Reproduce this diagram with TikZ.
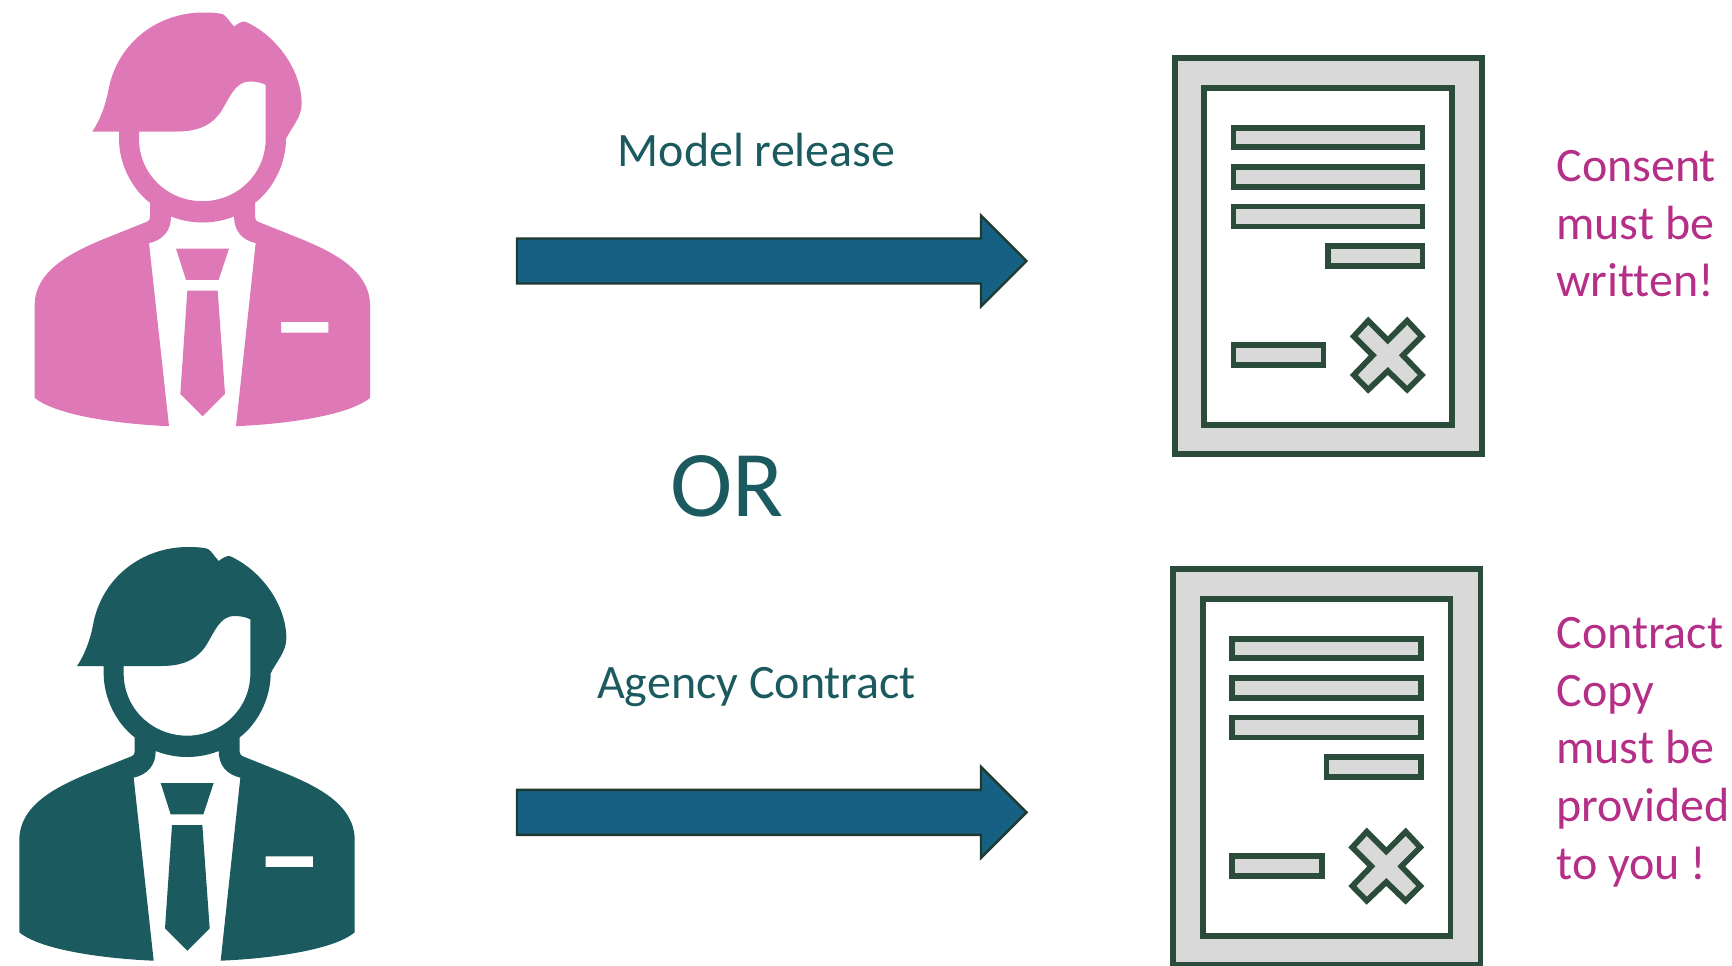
\documentclass[tikz,border=0pt]{standalone}
\usepackage{fontspec}
\setmainfont{Carlito}[Ligatures=NoCommon]
\usetikzlibrary{calc}
\definecolor{pinkfig}{HTML}{DE78B7}
\definecolor{tealfig}{HTML}{1B5A5E}
\definecolor{arrowfill}{HTML}{166083}
\definecolor{arrowline}{HTML}{1F3A2F}
\definecolor{docline}{HTML}{2C4C3B}
\definecolor{docgray}{HTML}{D9D9D9}
\definecolor{magtext}{HTML}{B52E87}
\tikzset{
  docpart/.style={draw=docline,line width=2.85pt,miter limit=10},
  docgrayfill/.style={docpart,fill=docgray},
  docwhite/.style={docpart,fill=white},
  blockarrow/.style={draw=arrowline,line width=1.2pt,fill=arrowfill,miter limit=10},
  labeltext/.style={inner sep=0pt,anchor=base,text=tealfig,font=\fontsize{24}{28}\selectfont},
  ortext/.style={inner sep=0pt,anchor=base,text=tealfig,font=\fontsize{47}{56}\selectfont},
  notetext/.style={inner sep=0pt,anchor=base west,text=magtext,font=\fontsize{24}{28}\selectfont},
}
\newcommand{\personfig}[3]{%
\begin{scope}[shift={(#2,#3)},x=0.16667pt,y=-0.16667pt]
\fill[#1,even odd rule]
  (277,393) .. controls (300,360) and (318,310) .. (325,270)
  .. controls (350,130) and (470,36) .. (610,36)
  .. controls (640,36) and (660,38) .. (670,42)
  .. controls (680,48) and (690,65) .. (702,78)
  .. controls (712,70) and (725,62) .. (735,63)
  .. controls (830,105) and (905,210) .. (905,310)
  .. controls (905,350) and (875,380) .. (858,415)
  .. controls (858,490) and (820,565) .. (765,607)
  -- (765,650) .. controls (765,658) and (770,662) .. (775,664)
  -- (900,714) .. controls (1000,755) and (1110,810) .. (1110,915)
  -- (1110,1192) .. controls (1040,1250) and (830,1272) .. (708,1277)
  -- (767,728) .. controls (725,718) and (702,690) .. (702,648)
  .. controls (640,672) and (575,672) .. (513,648)
  .. controls (513,690) and (490,718) .. (447,728)
  -- (507,1277) .. controls (385,1272) and (175,1250) .. (104,1192)
  -- (104,915) .. controls (104,810) and (215,755) .. (315,714)
  -- (440,664)
  .. controls (447,661) and (450,658) .. (450,650)
  -- (450,607) .. controls (395,565) and (357,490) .. (357,415)
  -- (357,393) -- cycle
  (417,393) -- (530,393) .. controls (600,393) and (640,370) .. (665,330)
  .. controls (690,290) and (705,243) .. (750,243)
  .. controls (770,243) and (785,247) .. (797,253)
  -- (797,415) .. controls (797,520) and (712,602) .. (607,602)
  .. controls (502,602) and (417,520) .. (417,415) -- cycle
  (843,964) rectangle (985,996);
\fill[#1] (528,744) -- (687,744) -- (656,838) -- (558,838) -- cycle;
\fill[#1] (562,870) -- (653,870) -- (675,1180) -- (608,1247) -- (541,1180) -- cycle;
\end{scope}}
\newcommand{\docfig}[2]{%
\begin{scope}[shift={(#1,#2)}]
\path[docgrayfill] (1174.8,58.3) rectangle (1482,454.3);
\path[docwhite] (1204.3,88) rectangle (1452,424.7);
\path[docgrayfill] (1233.5,127.7) rectangle (1422.5,147.3);
\path[docgrayfill] (1233.5,167.2) rectangle (1422.5,187);
\path[docgrayfill] (1233.5,206.6) rectangle (1422.5,226.6);
\path[docgrayfill] (1328,246.2) rectangle (1422.5,266.2);
\path[docgrayfill] (1233.5,345.2) rectangle (1323.5,365.2);
\path[docgrayfill] (1368.2,320.7) -- (1387.8,340.3) -- (1407.2,320.7) -- (1421.8,336.3) -- (1402.8,355.3) -- (1421.8,375) -- (1407.2,389.7) -- (1387.8,371) -- (1368.2,389.7) -- (1353.8,375) -- (1372.8,355.3) -- (1353.8,336.3) -- cycle;
\end{scope}}
\newcommand{\blockarrowfig}[2]{%
\path[blockarrow] ($(#1)+(0,-22.5)$) -- ($(#2)+(-45.5,-22.5)$) -- ($(#2)+(-45.5,-45.5)$) -- (#2)
  -- ($(#2)+(-45.5,45.5)$) -- ($(#2)+(-45.5,22.5)$) -- ($(#1)+(0,22.5)$) -- cycle;}
\begin{document}
\begin{tikzpicture}[x=0.5pt,y=-0.5pt]
\useasboundingbox (0,0) rectangle (1732,965);
\personfig{pinkfig}{0}{0.5}
\personfig{tealfig}{-15.33}{535}
\docfig{0}{0}
\docfig{-1.5}{511}
\coordinate (a1s) at (517,261);
\coordinate (a1e) at (1026.5,261);
\coordinate (a2s) at (517,812.4);
\coordinate (a2e) at (1026.5,812.4);
\blockarrowfig{a1s}{a1e}
\blockarrowfig{a2s}{a2e}
\node[labeltext] (modelrelease) at (756.6,166) {Model release};
\node[labeltext] (agency) at (756.6,698) {Agency Contract};
\node[ortext] (orword) at (727,516) {OR};
\node[notetext] (n1) at (1556,181) {Consent};
\node[notetext] (n2) at (1556,239) {must be};
\node[notetext] (n3) at (1556,296) {written!};
\node[notetext] (n4) at (1556,648.5) {Contract};
\node[notetext] (n5) at (1556,706) {Copy};
\node[notetext] (n6) at (1556,763) {must be};
\node[notetext] (n7) at (1556,821) {provided};
\node[notetext] (n8) at (1556,879) {to you !};
\end{tikzpicture}
\end{document}
